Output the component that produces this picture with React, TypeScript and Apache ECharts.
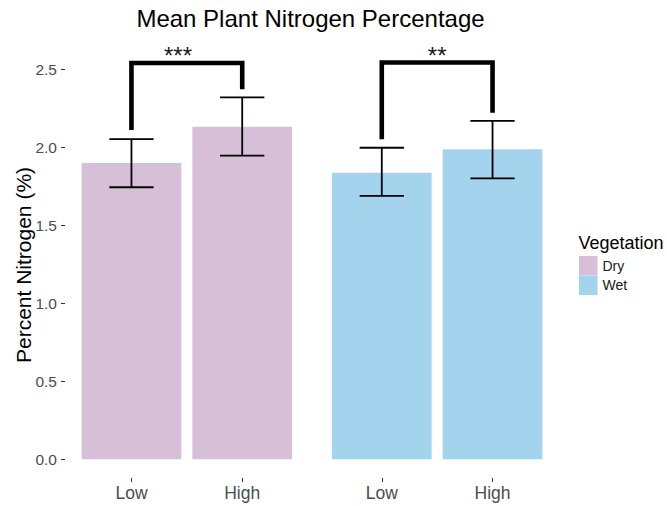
import React, { useEffect, useRef } from "react";
import * as echarts from "echarts";

const categories = ["Low", "High", "Low", "High"];
const groups = ["Dry", "Wet"];
const groupOfBar = ["Dry", "Dry", "Wet", "Wet"];
const xPositions = [1, 2, 3.26, 4.26];
const means = [1.9, 2.132, 1.837, 1.987];
const lowerCI = [1.744, 1.946, 1.688, 1.801];
const upperCI = [2.053, 2.32, 1.997, 2.169];
const yTicks = [0, 0.5, 1.0, 1.5, 2.0, 2.5];
// brackets: [leftX, rightX, leftBottom, rightBottom, top]
const brackets = [
  [1, 2, 2.111, 2.372, 2.54],
  [3.26, 4.26, 2.051, 2.222, 2.544],
];
const sigLabels = ["***", "**"];
const sigLabelPos = [
  [1.42, 2.59],
  [3.76, 2.59],
];
const groupColors: Record<string, string> = { Dry: "#D8BFD8", Wet: "#A4D3EE" };

const FONT = "'Liberation Sans', Arial, Helvetica, sans-serif";

export default function App() {
  const ref = useRef<HTMLDivElement>(null);
  useEffect(() => {
    if (!ref.current) return;
    document.body.style.margin = "0";
    const chart = echarts.init(ref.current, null, { renderer: "svg" });

    const barSeries = groups.map((g) => ({
      name: g,
      type: "custom",
      itemStyle: { color: groupColors[g] },
      encode: { x: 0, y: 1 },
      data: xPositions
        .map((x, i) => (groupOfBar[i] === g ? [x, means[i]] : null))
        .filter((d) => d !== null),
      renderItem: (params: any, api: any) => {
        const x = api.value(0);
        const y = api.value(1);
        const p1 = api.coord([x - 0.45, y]);
        const p2 = api.coord([x + 0.45, 0]);
        return {
          type: "rect",
          shape: { x: p1[0], y: p1[1], width: p2[0] - p1[0], height: p2[1] - p1[1] },
          style: { fill: groupColors[g] },
        };
      },
    }));

    const errorSeries = {
      type: "custom",
      z: 5,
      encode: { x: 0, y: [1, 2] },
      data: xPositions.map((x, i) => [x, lowerCI[i], upperCI[i]]),
      renderItem: (params: any, api: any) => {
        const x = api.value(0);
        const lo = api.coord([x, api.value(1)]);
        const hi = api.coord([x, api.value(2)]);
        const cl = api.coord([x - 0.2, api.value(1)]);
        const cr = api.coord([x + 0.2, api.value(1)]);
        const style = { stroke: "#000", lineWidth: 1.8 };
        return {
          type: "group",
          children: [
            { type: "line", shape: { x1: lo[0], y1: lo[1], x2: hi[0], y2: hi[1] }, style },
            { type: "line", shape: { x1: cl[0], y1: hi[1], x2: cr[0], y2: hi[1] }, style },
            { type: "line", shape: { x1: cl[0], y1: lo[1], x2: cr[0], y2: lo[1] }, style },
          ],
        };
      },
    };

    const bracketSeries = {
      type: "custom",
      z: 6,
      encode: { x: [0, 1], y: [2, 3, 4] },
      data: brackets,
      renderItem: (params: any, api: any) => {
        const x1 = api.value(0);
        const x2 = api.value(1);
        const top = api.value(4);
        const a = api.coord([x1, api.value(2)]);
        const b = api.coord([x1, top]);
        const c = api.coord([x2, top]);
        const d = api.coord([x2, api.value(3)]);
        return {
          type: "polyline",
          shape: { points: [a, b, c, d] },
          style: { stroke: "#000", lineWidth: 4.6, fill: null, lineJoin: "miter", lineCap: "butt" },
        };
      },
    };

    const sigSeries = {
      type: "custom",
      z: 7,
      encode: { x: 0, y: 1 },
      data: sigLabelPos,
      renderItem: (params: any, api: any) => {
        const p = api.coord([api.value(0), api.value(1)]);
        return {
          type: "text",
          x: p[0],
          y: p[1],
          style: {
            text: sigLabels[params.dataIndex],
            fill: "#1a1a1a",
            fontSize: 24,
            fontFamily: FONT,
            align: "center",
            verticalAlign: "middle",
          },
        };
      },
    };

    const nearestIndex = (v: number) => {
      let best = 0;
      for (let i = 1; i < xPositions.length; i++) {
        if (Math.abs(xPositions[i] - v) < Math.abs(xPositions[best] - v)) best = i;
      }
      return best;
    };

    chart.setOption({
      animation: false,
      backgroundColor: "#fff",
      textStyle: { fontFamily: FONT },
      grid: { left: 65, right: 108, top: 22.5, bottom: 28, containLabel: false },
      xAxis: {
        type: "value",
        min: 0.4,
        max: 4.86,
        splitLine: { show: false },
        axisLine: { show: false, onZero: false },
        axisTick: {
          show: true,
          customValues: xPositions,
          length: 4,
          lineStyle: { color: "#333", width: 1 },
        },
        axisLabel: {
          customValues: xPositions,
          formatter: (v: number) => categories[nearestIndex(v)],
          color: "#4D4D4D",
          fontSize: 17.5,
          margin: 6,
          fontFamily: FONT,
        },
      },
      yAxis: {
        type: "value",
        min: -0.12,
        max: 2.8,
        splitLine: { show: false },
        axisLine: { show: false, onZero: false },
        axisTick: {
          show: true,
          customValues: yTicks,
          length: 4,
          lineStyle: { color: "#333", width: 1 },
        },
        axisLabel: {
          customValues: yTicks,
          formatter: (v: number) => v.toFixed(1),
          color: "#4D4D4D",
          fontSize: 15.5,
          margin: 8,
          fontFamily: FONT,
        },
      },
      legend: {
        data: groups,
        orient: "vertical",
        left: 579,
        top: 256,
        padding: 0,
        icon: "rect",
        itemWidth: 18.5,
        itemHeight: 19.5,
        itemGap: 0,
        textStyle: { fontSize: 14, color: "#1a1a1a", fontFamily: FONT },
      },
      graphic: [
        {
          type: "text",
          x: 310.5,
          y: 18.5,
          style: {
            text: "Mean Plant Nitrogen Percentage",
            fontSize: 24,
            fill: "#000",
            fontFamily: FONT,
            align: "center",
            verticalAlign: "middle",
          },
        },
        {
          type: "text",
          x: 23.3,
          y: 265,
          rotation: Math.PI / 2,
          style: {
            text: "Percent Nitrogen (%)",
            fontSize: 21,
            fill: "#000",
            fontFamily: FONT,
            align: "center",
            verticalAlign: "middle",
          },
        },
        {
          type: "text",
          x: 578.5,
          y: 242.5,
          style: {
            text: "Vegetation",
            fontSize: 18,
            fill: "#000",
            fontFamily: FONT,
            align: "left",
            verticalAlign: "middle",
          },
        },
      ],
      series: [...barSeries, errorSeries, bracketSeries, sigSeries],
    });

    return () => chart.dispose();
  }, []);

  return <div ref={ref} style={{ width: 667, height: 506 }} />;
}
